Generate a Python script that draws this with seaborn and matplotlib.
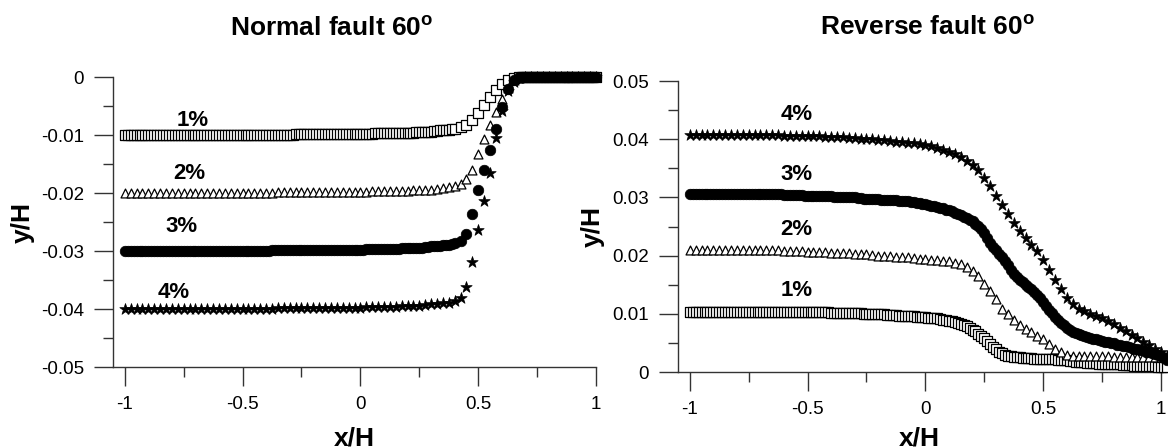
import matplotlib
matplotlib.use("Agg")
import matplotlib.pyplot as plt
import seaborn as sns

# ---------------- data ----------------
x_left = [-1.0, -0.975, -0.95, -0.925, -0.9, -0.875, -0.85, -0.825, -0.8, -0.775,
          -0.75, -0.725, -0.7, -0.675, -0.65, -0.625, -0.6, -0.575, -0.55, -0.525,
          -0.5, -0.475, -0.45, -0.425, -0.4, -0.375, -0.35, -0.325, -0.3, -0.275,
          -0.25, -0.225, -0.2, -0.175, -0.15, -0.125, -0.1, -0.075, -0.05, -0.025,
          0.0, 0.025, 0.05, 0.075, 0.1, 0.125, 0.15, 0.175, 0.2, 0.225,
          0.25, 0.275, 0.3, 0.325, 0.35, 0.375, 0.4, 0.425, 0.45, 0.475,
          0.5, 0.525, 0.55, 0.575, 0.6, 0.625, 0.65, 0.675, 0.7, 0.725,
          0.75, 0.775, 0.8, 0.825, 0.85, 0.875, 0.9, 0.925, 0.95, 0.975,
          1.0]
x_right = x_left + [1.025]

# extra (finer-mesh) nodes of the 1% and 3% curves
x_left_fine = [-0.9875, -0.9625, -0.9375, -0.9125, -0.8875, -0.8625, -0.8375, -0.8125, -0.7875, -0.7625,
               -0.7375, -0.7125, -0.6875, -0.6625, -0.6375, -0.6125, -0.5875, -0.5625, -0.5375, -0.5125,
               -0.4875, -0.4625, -0.4375, -0.4125, -0.3875, -0.3625, -0.3375, -0.3125, -0.2875, -0.2625,
               -0.2375, -0.2125, -0.1875, -0.1625, -0.1375, -0.1125, -0.0875, -0.0625, -0.0375, -0.0125,
               0.0125, 0.0375, 0.0625, 0.0875, 0.1125, 0.1375, 0.1625, 0.1875, 0.2125, 0.2375,
               0.2625, 0.2875, 0.3125, 0.3375, 0.3625, 0.3875,
               0.6875, 0.7125, 0.7375, 0.7625, 0.7875, 0.8125, 0.8375, 0.8625, 0.8875, 0.9125,
               0.9375, 0.9625, 0.9875]
x_right_fine = [-0.9875, -0.9625, -0.9375, -0.9125, -0.8875, -0.8625, -0.8375, -0.8125, -0.7875, -0.7625,
                -0.7375, -0.7125, -0.6875, -0.6625, -0.6375, -0.6125, -0.5875, -0.5625, -0.5375, -0.5125,
                -0.4875, -0.4625, -0.4375, -0.4125, -0.3875, -0.3625, -0.3375, -0.3125, -0.2875, -0.2625,
                -0.2375, -0.2125, -0.1875, -0.1625, -0.1375, -0.1125, -0.0875, -0.0625, -0.0375, -0.0125,
                0.0125, 0.0375, 0.0625, 0.0875, 0.1125, 0.1375, 0.1625, 0.1875, 0.2125, 0.2375,
                0.2625, 0.2875, 0.3125, 0.3375, 0.3625, 0.3875, 0.4125, 0.4375, 0.4625, 0.4875,
                0.5125, 0.5375, 0.5625, 0.5875, 0.6125, 0.6375, 0.6625, 0.6875, 0.7125, 0.7375,
                0.7625, 0.7875, 0.8125, 0.8375, 0.8625, 0.8875, 0.9125, 0.9375, 0.9625, 0.9875,
                1.0125]

normal_1 = [-0.0100, -0.0100, -0.0100, -0.0100, -0.0100, -0.0100, -0.0100, -0.0100, -0.0100, -0.0100,
            -0.0100, -0.0100, -0.0100, -0.0100, -0.0100, -0.0100, -0.0100, -0.0100, -0.0100, -0.0100,
            -0.0100, -0.0100, -0.0100, -0.0100, -0.0100, -0.0100, -0.0100, -0.0100, -0.0100, -0.0099,
            -0.0099, -0.0099, -0.0099, -0.0099, -0.0099, -0.0099, -0.0099, -0.0098, -0.0098, -0.0098,
            -0.0098, -0.0098, -0.0098, -0.0097, -0.0097, -0.0097, -0.0097, -0.0096, -0.0096, -0.0096,
            -0.0095, -0.0095, -0.0094, -0.0093, -0.0092, -0.0091, -0.0089, -0.0087, -0.0083, -0.0075,
            -0.0062, -0.0048, -0.0035, -0.0023, -0.0012, -0.0005, -0.0001, 0.0, 0.0, 0.0,
            0.0, 0.0, 0.0, 0.0, 0.0, 0.0, 0.0, 0.0, 0.0, 0.0,
            0.0]
normal_1_fine = [-0.0100, -0.0100, -0.0100, -0.0100, -0.0100, -0.0100, -0.0100, -0.0100, -0.0100, -0.0100,
                 -0.0100, -0.0100, -0.0100, -0.0100, -0.0100, -0.0100, -0.0100, -0.0100, -0.0100, -0.0100,
                 -0.0100, -0.0100, -0.0100, -0.0100, -0.0100, -0.0100, -0.0100, -0.0100, -0.0100, -0.0099,
                 -0.0099, -0.0099, -0.0099, -0.0099, -0.0099, -0.0099, -0.0099, -0.0098, -0.0098, -0.0098,
                 -0.0098, -0.0098, -0.0097, -0.0097, -0.0097, -0.0097, -0.0096, -0.0096, -0.0096, -0.0095,
                 -0.0095, -0.0094, -0.0093, -0.0092, -0.0091, -0.0090,
                 0.0, 0.0, 0.0, 0.0, 0.0, 0.0, 0.0, 0.0, 0.0, 0.0,
                 0.0, 0.0, 0.0]
normal_2 = [-0.0200, -0.0200, -0.0200, -0.0200, -0.0200, -0.0200, -0.0200, -0.0200, -0.0200, -0.0200,
            -0.0200, -0.0200, -0.0200, -0.0200, -0.0200, -0.0200, -0.0200, -0.0200, -0.0200, -0.0200,
            -0.0200, -0.0200, -0.0200, -0.0200, -0.0200, -0.0200, -0.0199, -0.0199, -0.0199, -0.0199,
            -0.0199, -0.0199, -0.0199, -0.0199, -0.0199, -0.0199, -0.0198, -0.0198, -0.0198, -0.0198,
            -0.0198, -0.0198, -0.0197, -0.0197, -0.0197, -0.0197, -0.0196, -0.0196, -0.0196, -0.0195,
            -0.0195, -0.0194, -0.0194, -0.0193, -0.0192, -0.0190, -0.0188, -0.0185, -0.0176, -0.0160,
            -0.0133, -0.0107, -0.0083, -0.0060, -0.0038, -0.0019, -0.0006, -0.0001, 0.0, 0.0,
            0.0, 0.0, 0.0, 0.0, 0.0, 0.0, 0.0, 0.0, 0.0, 0.0,
            0.0]
normal_3 = [-0.0300, -0.0300, -0.0300, -0.0300, -0.0300, -0.0300, -0.0300, -0.0300, -0.0300, -0.0300,
            -0.0300, -0.0300, -0.0300, -0.0300, -0.0300, -0.0300, -0.0300, -0.0300, -0.0300, -0.0300,
            -0.0300, -0.0300, -0.0300, -0.0300, -0.0300, -0.0299, -0.0299, -0.0299, -0.0299, -0.0299,
            -0.0299, -0.0299, -0.0299, -0.0299, -0.0298, -0.0298, -0.0298, -0.0298, -0.0298, -0.0298,
            -0.0298, -0.0297, -0.0297, -0.0297, -0.0296, -0.0296, -0.0296, -0.0295, -0.0295, -0.0294,
            -0.0294, -0.0293, -0.0292, -0.0291, -0.0290, -0.0289, -0.0287, -0.0283, -0.0270, -0.0237,
            -0.0195, -0.0160, -0.0126, -0.0089, -0.0052, -0.0021, -0.0005, 0.0, 0.0, 0.0,
            0.0, 0.0, 0.0, 0.0, 0.0, 0.0, 0.0, 0.0, 0.0, 0.0,
            0.0]
normal_3_fine = [-0.0300, -0.0300, -0.0300, -0.0300, -0.0300, -0.0300, -0.0300, -0.0300, -0.0300, -0.0300,
                 -0.0300, -0.0300, -0.0300, -0.0300, -0.0300, -0.0300, -0.0300, -0.0300, -0.0300, -0.0300,
                 -0.0300, -0.0300, -0.0300, -0.0300, -0.0300, -0.0299, -0.0299, -0.0299, -0.0299, -0.0299,
                 -0.0299, -0.0299, -0.0299, -0.0299, -0.0298, -0.0298, -0.0298, -0.0298, -0.0298, -0.0298,
                 -0.0298, -0.0297, -0.0297, -0.0297, -0.0296, -0.0296, -0.0296, -0.0295, -0.0295, -0.0294,
                 -0.0294, -0.0293, -0.0292, -0.0291, -0.0290, -0.0288,
                 0.0, 0.0, 0.0, 0.0, 0.0, 0.0, 0.0, 0.0, 0.0, 0.0,
                 0.0, 0.0, 0.0]
normal_4 = [-0.0400, -0.0400, -0.0400, -0.0400, -0.0400, -0.0400, -0.0400, -0.0400, -0.0400, -0.0400,
            -0.0400, -0.0400, -0.0400, -0.0400, -0.0400, -0.0400, -0.0400, -0.0400, -0.0400, -0.0400,
            -0.0400, -0.0400, -0.0400, -0.0400, -0.0400, -0.0400, -0.0399, -0.0399, -0.0399, -0.0399,
            -0.0399, -0.0399, -0.0399, -0.0399, -0.0399, -0.0398, -0.0398, -0.0398, -0.0398, -0.0398,
            -0.0398, -0.0397, -0.0397, -0.0397, -0.0396, -0.0396, -0.0396, -0.0395, -0.0395, -0.0394,
            -0.0394, -0.0393, -0.0392, -0.0391, -0.0390, -0.0389, -0.0387, -0.0381, -0.0362, -0.0319,
            -0.0263, -0.0213, -0.0166, -0.0106, -0.0058, -0.0025, -0.0008, -0.0001, 0.0, 0.0,
            0.0, 0.0, 0.0, 0.0, 0.0, 0.0, 0.0, 0.0, 0.0, 0.0,
            0.0]

reverse_1 = [0.0103, 0.0103, 0.0103, 0.0103, 0.0103, 0.0103, 0.0103, 0.0103, 0.0103, 0.0103,
             0.0103, 0.0103, 0.0103, 0.0103, 0.0103, 0.0103, 0.0103, 0.0103, 0.0103, 0.0103,
             0.0103, 0.0103, 0.0103, 0.0103, 0.0102, 0.0102, 0.0102, 0.0102, 0.0101, 0.0101,
             0.0100, 0.0100, 0.0099, 0.0099, 0.0098, 0.0098, 0.0097, 0.0097, 0.0096, 0.0095,
             0.0094, 0.0093, 0.0092, 0.0090, 0.0088, 0.0086, 0.0082, 0.0079, 0.0073, 0.0066,
             0.0058, 0.0048, 0.0039, 0.0032, 0.0028, 0.0026, 0.0025, 0.0024, 0.0024, 0.0023,
             0.0023, 0.0022, 0.0022, 0.0021, 0.0020, 0.0019, 0.0018, 0.0017, 0.0016, 0.0015,
             0.0014, 0.0014, 0.0013, 0.0013, 0.0012, 0.0012, 0.0011, 0.0011, 0.0010, 0.0010,
             0.0009, 0.0008]
reverse_1_fine = [0.0103, 0.0103, 0.0103, 0.0103, 0.0103, 0.0103, 0.0103, 0.0103, 0.0103, 0.0103,
                  0.0103, 0.0103, 0.0103, 0.0103, 0.0103, 0.0103, 0.0103, 0.0103, 0.0103, 0.0103,
                  0.0103, 0.0103, 0.0103, 0.0103, 0.0102, 0.0102, 0.0102, 0.0101, 0.0101, 0.0100,
                  0.0100, 0.0099, 0.0099, 0.0098, 0.0098, 0.0097, 0.0097, 0.0096, 0.0095, 0.0094,
                  0.0093, 0.0092, 0.0091, 0.0089, 0.0087, 0.0084, 0.0080, 0.0076, 0.0070, 0.0062,
                  0.0053, 0.0043, 0.0035, 0.0030, 0.0027, 0.0025, 0.0024, 0.0024, 0.0023, 0.0023,
                  0.0022, 0.0022, 0.0021, 0.0020, 0.0019, 0.0018, 0.0017, 0.0016, 0.0015, 0.0014,
                  0.0014, 0.0013, 0.0013, 0.0012, 0.0012, 0.0011, 0.0011, 0.0010, 0.0010, 0.0009,
                  0.0008]
reverse_2 = [0.0209, 0.0209, 0.0209, 0.0209, 0.0209, 0.0209, 0.0209, 0.0209, 0.0209, 0.0209,
             0.0209, 0.0209, 0.0209, 0.0209, 0.0209, 0.0209, 0.0208, 0.0208, 0.0208, 0.0208,
             0.0207, 0.0207, 0.0206, 0.0206, 0.0205, 0.0205, 0.0204, 0.0204, 0.0203, 0.0203,
             0.0202, 0.0201, 0.0200, 0.0200, 0.0199, 0.0198, 0.0197, 0.0197, 0.0196, 0.0195,
             0.0194, 0.0193, 0.0192, 0.0191, 0.0190, 0.0188, 0.0185, 0.0180, 0.0174, 0.0165,
             0.0152, 0.0139, 0.0125, 0.0109, 0.0099, 0.0089, 0.0081, 0.0074, 0.0069, 0.0062,
             0.0056, 0.0048, 0.0040, 0.0034, 0.0030, 0.0028, 0.0027, 0.0027, 0.0027, 0.0027,
             0.0027, 0.0027, 0.0026, 0.0026, 0.0026, 0.0026, 0.0026, 0.0026, 0.0026, 0.0026,
             0.0026, 0.0025]
reverse_3 = [0.0305, 0.0305, 0.0305, 0.0305, 0.0305, 0.0305, 0.0305, 0.0305, 0.0305, 0.0305,
             0.0305, 0.0305, 0.0305, 0.0305, 0.0305, 0.0305, 0.0304, 0.0304, 0.0304, 0.0304,
             0.0303, 0.0303, 0.0303, 0.0302, 0.0302, 0.0301, 0.0301, 0.0300, 0.0300, 0.0299,
             0.0298, 0.0298, 0.0297, 0.0296, 0.0295, 0.0295, 0.0294, 0.0293, 0.0292, 0.0290,
             0.0288, 0.0286, 0.0284, 0.0281, 0.0278, 0.0274, 0.0270, 0.0265, 0.0259, 0.0251,
             0.0238, 0.0222, 0.0209, 0.0198, 0.0184, 0.0169, 0.0158, 0.0150, 0.0142, 0.0133,
             0.0121, 0.0107, 0.0095, 0.0084, 0.0076, 0.0069, 0.0065, 0.0061, 0.0059, 0.0056,
             0.0054, 0.0051, 0.0049, 0.0046, 0.0044, 0.0042, 0.0039, 0.0037, 0.0034, 0.0031,
             0.0027, 0.0021]
reverse_3_fine = [0.0305, 0.0305, 0.0305, 0.0305, 0.0305, 0.0305, 0.0305, 0.0305, 0.0305, 0.0305,
                  0.0305, 0.0305, 0.0305, 0.0305, 0.0305, 0.0305, 0.0304, 0.0304, 0.0304, 0.0303,
                  0.0303, 0.0303, 0.0302, 0.0302, 0.0301, 0.0301, 0.0300, 0.0300, 0.0299, 0.0298,
                  0.0298, 0.0297, 0.0296, 0.0295, 0.0295, 0.0294, 0.0293, 0.0292, 0.0291, 0.0289,
                  0.0287, 0.0285, 0.0282, 0.0279, 0.0276, 0.0272, 0.0267, 0.0262, 0.0255, 0.0245,
                  0.0230, 0.0215, 0.0203, 0.0191, 0.0176, 0.0163, 0.0154, 0.0146, 0.0138, 0.0127,
                  0.0114, 0.0101, 0.0089, 0.0080, 0.0072, 0.0067, 0.0063, 0.0060, 0.0057, 0.0055,
                  0.0052, 0.0050, 0.0047, 0.0045, 0.0043, 0.0040, 0.0038, 0.0035, 0.0032, 0.0029,
                  0.0024]
reverse_4 = [0.0407, 0.0407, 0.0407, 0.0407, 0.0407, 0.0407, 0.0407, 0.0407, 0.0407, 0.0407,
             0.0407, 0.0407, 0.0407, 0.0407, 0.0407, 0.0407, 0.0406, 0.0406, 0.0406, 0.0406,
             0.0406, 0.0405, 0.0405, 0.0404, 0.0404, 0.0403, 0.0403, 0.0402, 0.0402, 0.0401,
             0.0400, 0.0400, 0.0399, 0.0398, 0.0397, 0.0396, 0.0395, 0.0394, 0.0393, 0.0392,
             0.0390, 0.0388, 0.0385, 0.0382, 0.0378, 0.0374, 0.0369, 0.0363, 0.0356, 0.0347,
             0.0334, 0.0319, 0.0303, 0.0287, 0.0271, 0.0256, 0.0243, 0.0231, 0.0219, 0.0208,
             0.0192, 0.0175, 0.0158, 0.0142, 0.0128, 0.0117, 0.0109, 0.0104, 0.0100, 0.0097,
             0.0093, 0.0088, 0.0082, 0.0076, 0.0070, 0.0064, 0.0058, 0.0052, 0.0046, 0.0040,
             0.0034, 0.0028]

series_labels = ["1%", "2%", "3%", "4%"]
normal_label_x = [-0.711, -0.728, -0.760, -0.792]
normal_label_y = [-0.0085, -0.0176, -0.0268, -0.0381]
reverse_label_x = [-0.546, -0.546, -0.546, -0.546]
reverse_label_y = [0.0131, 0.0235, 0.0330, 0.0433]

x_ticks = [-1, -0.5, 0, 0.5, 1]
x_tick_labels = ["-1", "-0.5", "0", "0.5", "1"]
x_minor = [-0.75, -0.25, 0.25, 0.75]
normal_y_ticks = [0, -0.01, -0.02, -0.03, -0.04, -0.05]
normal_y_labels = ["0", "-0.01", "-0.02", "-0.03", "-0.04", "-0.05"]
normal_y_minor = [-0.005, -0.015, -0.025, -0.035, -0.045]
reverse_y_ticks = [0, 0.01, 0.02, 0.03, 0.04, 0.05]
reverse_y_labels = ["0", "0.01", "0.02", "0.03", "0.04", "0.05"]
reverse_y_minor = [0.005, 0.015, 0.025, 0.035, 0.045]


def merge(xa, ya, xb, yb):
    pts = sorted(zip(xa + xb, ya + yb))
    return [p[0] for p in pts], [p[1] for p in pts]


# ---------------- style ----------------
sns.set_style("ticks")
plt.rcParams["font.family"] = ["Liberation Sans", "DejaVu Sans"]
plt.rcParams["axes.unicode_minus"] = False
plt.rcParams["mathtext.fontset"] = "custom"
plt.rcParams["mathtext.bf"] = "Liberation Sans:bold"
plt.rcParams["mathtext.rm"] = "Liberation Sans"
plt.rcParams["text.color"] = "black"
plt.rcParams["axes.labelcolor"] = "black"

W, H = 1168, 448
fig = plt.figure(figsize=(W / 100, H / 100), dpi=100)
ax1 = fig.add_axes([113 / W, 1 - 367 / H, (596 - 113) / W, (367 - 77) / H])
ax2 = fig.add_axes([678 / W, 1 - 372 / H, (1161 - 678) / W, (372 - 81) / H])

marker_styles = [
    dict(marker="s", s=7.3 ** 2, facecolor="white", edgecolor="black", linewidth=0.9),
    dict(marker="^", s=6.4 ** 2, facecolor="white", edgecolor="black", linewidth=0.9),
    dict(marker="o", s=7.6 ** 2, facecolor="black", edgecolor="black", linewidth=0.5),
    dict(marker="*", s=8.6 ** 2, facecolor="black", edgecolor="black", linewidth=0.5),
]

spine_col = "#333333"


def style_axis(ax, yt, ytl, ymin, ylim):
    ax.set_xlim(-1.05, 1.0)
    ax.set_ylim(*ylim)
    sns.despine(ax=ax)
    for side in ("left", "bottom"):
        ax.spines[side].set_color(spine_col)
        ax.spines[side].set_linewidth(1.0)
    ax.set_xticks(x_ticks)
    ax.set_xticklabels(x_tick_labels)
    ax.set_xticks(x_minor, minor=True)
    ax.set_yticks(yt)
    ax.set_yticklabels(ytl)
    ax.set_yticks(ymin, minor=True)
    ax.tick_params(which="major", direction="out", length=14, width=1.0,
                   color=spine_col, labelsize=13.5, pad=7, labelcolor="black")
    ax.tick_params(which="minor", direction="out", length=7, width=1.0, color=spine_col)


left_series = [
    merge(x_left, normal_1, x_left_fine, normal_1_fine),
    (x_left, normal_2),
    merge(x_left, normal_3, x_left_fine, normal_3_fine),
    (x_left, normal_4),
]
right_series = [
    merge(x_right, reverse_1, x_right_fine, reverse_1_fine),
    (x_right, reverse_2),
    merge(x_right, reverse_3, x_right_fine, reverse_3_fine),
    (x_right, reverse_4),
]

for ax, series, lx, ly in [
    (ax1, left_series, normal_label_x, normal_label_y),
    (ax2, right_series, reverse_label_x, reverse_label_y),
]:
    for (xs, ys), st in zip(series, marker_styles):
        sns.scatterplot(x=xs, y=ys, ax=ax, clip_on=False, zorder=3, **st)
    for lab, tx, ty in zip(series_labels, lx, ly):
        ax.text(tx, ty, lab, ha="center", va="baseline", fontsize=16, fontweight="bold",
                color="black")

style_axis(ax1, normal_y_ticks, normal_y_labels, normal_y_minor, (-0.05, 0.0))
style_axis(ax2, reverse_y_ticks, reverse_y_labels, reverse_y_minor, (0.0, 0.05))

ax1.set_xlabel("x/H", fontsize=19, fontweight="bold", va="baseline")
ax1.xaxis.set_label_coords(0.5, (367 - 445) / (367 - 77))
ax2.set_xlabel("x/H", fontsize=19, fontweight="bold", va="baseline")
ax2.xaxis.set_label_coords(0.5, (372 - 445) / (372 - 81))
ax1.set_ylabel("y/H", fontsize=19, fontweight="bold", va="center")
ax1.yaxis.set_label_coords((23 - 113) / (596 - 113), 0.5)
ax2.set_ylabel("y/H", fontsize=19, fontweight="bold", va="center")
ax2.yaxis.set_label_coords((593 - 678) / (1161 - 678), 0.5)

fig.text(332 / W, 1 - 36 / H, r"Normal fault 60$^{\mathbf{o}}$", ha="center", va="baseline",
         fontsize=19, fontweight="bold")
fig.text(928 / W, 1 - 35 / H, r"Reverse fault 60$^{\mathbf{o}}$", ha="center", va="baseline",
         fontsize=19, fontweight="bold")

fig.savefig("out.png", dpi=100)
